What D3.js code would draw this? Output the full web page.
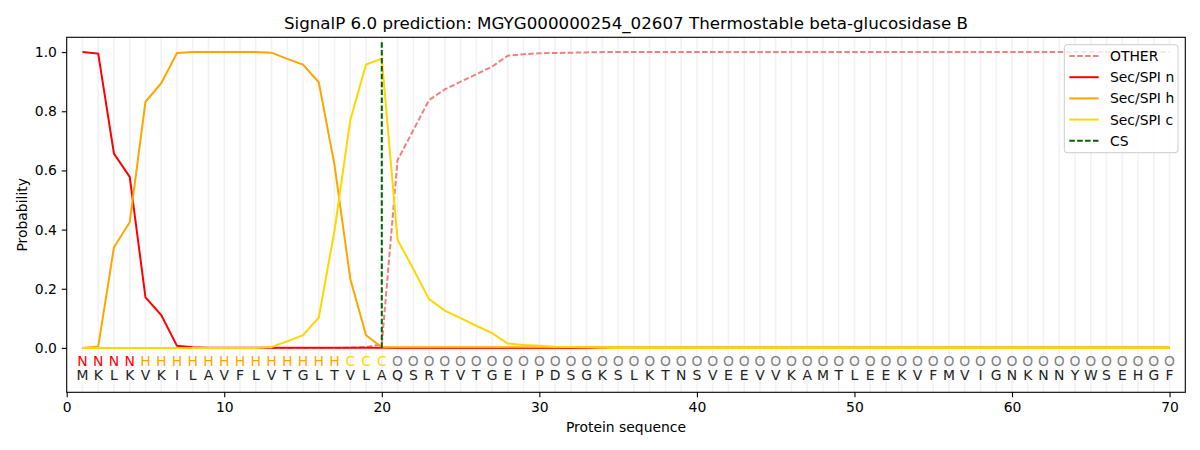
<!DOCTYPE html>
<html>
<head>
<meta charset="utf-8">
<script src="https://cdn.jsdelivr.net/npm/d3@7"></script>
<style>
  body { margin: 0; background: #fff; }
  text { font-family: "DejaVu Sans", sans-serif; }
</style>
</head>
<body>
<div id="chart"></div>
<script>
// SignalP 6.0 per-residue probabilities

const width = 1200,
    height = 450,
    margin = ({ top: 37.3, right: 14.7, bottom: 57.7, left: 66.7 });

const sequence = "MKLKVKILAVFLVTGLTVLAQSRTVTGEIPDSGKSLKTNSVEEVVKAMTLEEKVFMVIGNKNNYWSEHGF".split("");
const regionLabels = "NNNNHHHHHHHHHHHHHCCCOOOOOOOOOOOOOOOOOOOOOOOOOOOOOOOOOOOOOOOOOOOOOOOOOO".split("");
const positions = d3.range(1, 71);

const otherProb = [0, 0, 0, 0, 0, 0, 0, 0, 0, 0,
  0, 0, 0, 0, 0, 0, 0, 0.001, 0.003, 0.012,
  0.635, 0.736, 0.838, 0.874, 0.900, 0.925, 0.951, 0.988, 0.993, 0.996,
  0.997, 0.998, 0.999, 1, 1, 1, 1, 1, 1, 1,
  1, 1, 1, 1, 1, 1, 1, 1, 1, 1,
  1, 1, 1, 1, 1, 1, 1, 1, 1, 1,
  1, 1, 1, 1, 1, 1, 1, 1, 1, 1];
const nProb = [1.0, 0.995, 0.657, 0.578, 0.171, 0.111, 0.007, 0.002, 0.001, 0.001,
  0.001, 0.001, 0.001, 0.001, 0.001, 0.001, 0.001, 0.001, 0.001, 0.001,
  0, 0, 0, 0, 0, 0, 0, 0, 0, 0,
  0, 0, 0, 0, 0, 0, 0, 0, 0, 0,
  0, 0, 0, 0, 0, 0, 0, 0, 0, 0,
  0, 0, 0, 0, 0, 0, 0, 0, 0, 0,
  0, 0, 0, 0, 0, 0, 0, 0, 0, 0];
const hProb = [0, 0.005, 0.340, 0.425, 0.832, 0.895, 0.997, 1.0, 1.0, 1.0,
  1.0, 1.0, 0.998, 0.977, 0.958, 0.898, 0.618, 0.233, 0.043, 0.002,
  0.002, 0.002, 0.002, 0.002, 0.002, 0.002, 0.002, 0.002, 0.002, 0.002,
  0.002, 0.002, 0.002, 0.002, 0.002, 0.002, 0.002, 0.002, 0.002, 0.002,
  0.002, 0.002, 0.002, 0.002, 0.002, 0.002, 0.002, 0.002, 0.002, 0.002,
  0.002, 0.002, 0.002, 0.002, 0.002, 0.002, 0.002, 0.002, 0.002, 0.002,
  0.002, 0.002, 0.002, 0.002, 0.002, 0.002, 0.002, 0.002, 0.002, 0.002];
const cProb = [0, 0, 0, 0, 0, 0, 0, 0, 0, 0,
  0, 0, 0.003, 0.022, 0.043, 0.103, 0.397, 0.770, 0.958, 0.978,
  0.366, 0.267, 0.165, 0.126, 0.101, 0.075, 0.050, 0.015, 0.010, 0.007,
  0.004, 0.003, 0.002, 0.001, 0, 0, 0, 0, 0, 0,
  0, 0, 0, 0, 0, 0, 0, 0, 0, 0,
  0, 0, 0, 0, 0, 0, 0, 0, 0, 0,
  0, 0, 0, 0, 0, 0, 0, 0, 0, 0];
const cleavageSite = 20;

const xTicks = [0, 10, 20, 30, 40, 50, 60, 70];
const yTicks = [0, 0.2, 0.4, 0.6, 0.8, 1.0];

const series = [
  { name: "OTHER", values: otherProb, color: "#f08080", dash: "5.5,2.4" },
  { name: "Sec/SPI n", values: nProb, color: "#ff0000", dash: null },
  { name: "Sec/SPI h", values: hProb, color: "#ffa500", dash: null },
  { name: "Sec/SPI c", values: cProb, color: "#ffd700", dash: null }
];
const labelColors = { N: "#ff0000", H: "#ffa500", C: "#ffd700", O: "#808080" };

const svg = d3.select("#chart")
  .append("svg")
  .attr("width", width)
  .attr("height", height)
  .attr("viewBox", [0, 0, width, height]);

const x = d3.scaleLinear()
  .domain([0, 71])
  .range([margin.left, width - margin.right]);

const y = d3.scaleLinear()
  .domain([-0.15, 1.05])
  .range([height - margin.bottom, margin.top]);

// light vertical guides at every residue
svg.append("g")
  .selectAll("line")
  .data(positions)
  .join("line")
  .attr("x1", d => x(d))
  .attr("x2", d => x(d))
  .attr("y1", margin.top)
  .attr("y2", height - margin.bottom)
  .attr("stroke", "#f2f2f2")
  .attr("stroke-width", 1.6);

const line = d3.line()
  .x((d, i) => x(positions[i]))
  .y(d => y(d));

svg.append("g")
  .selectAll("path")
  .data(series)
  .join("path")
  .attr("d", d => line(d.values))
  .attr("fill", "none")
  .attr("stroke", d => d.color)
  .attr("stroke-width", 2)
  .attr("stroke-dasharray", d => d.dash);

// cleavage site
svg.append("line")
  .attr("x1", x(cleavageSite))
  .attr("x2", x(cleavageSite))
  .attr("y1", y(0))
  .attr("y2", y(1.035))
  .attr("stroke", "#006400")
  .attr("stroke-width", 2)
  .attr("stroke-dasharray", "5.5,2.4");

// region labels and residues
svg.append("g")
  .selectAll("text")
  .data(regionLabels)
  .join("text")
  .attr("x", (d, i) => x(positions[i]))
  .attr("y", 366)
  .attr("text-anchor", "middle")
  .attr("font-size", 13.9)
  .attr("fill", d => labelColors[d])
  .text(d => d);

svg.append("g")
  .selectAll("text")
  .data(sequence)
  .join("text")
  .attr("x", (d, i) => x(positions[i]))
  .attr("y", 380)
  .attr("text-anchor", "middle")
  .attr("font-size", 13.9)
  .attr("fill", "#222")
  .text(d => d);

// axes
const xAxis = svg.append("g")
  .attr("transform", `translate(0,${height - margin.bottom})`)
  .call(d3.axisBottom(x).tickValues(xTicks).tickFormat(d3.format("d")).tickSize(4.9).tickPadding(4.9));

const yAxis = svg.append("g")
  .attr("transform", `translate(${margin.left},0)`)
  .call(d3.axisLeft(y).tickValues(yTicks).tickFormat(d3.format(".1f")).tickSize(4.9).tickPadding(4.9));

[xAxis, yAxis].forEach(a => {
  a.select(".domain").remove();
  a.selectAll("text").attr("font-size", 13.9).attr("fill", "#000").attr("font-family", "DejaVu Sans");
  a.selectAll("line").attr("stroke", "#000").attr("stroke-width", 1.1);
});

svg.append("rect")
  .attr("x", margin.left)
  .attr("y", margin.top)
  .attr("width", width - margin.left - margin.right)
  .attr("height", height - margin.top - margin.bottom)
  .attr("fill", "none")
  .attr("stroke", "#000")
  .attr("stroke-width", 1.1);

svg.append("text")
  .attr("x", (margin.left + width - margin.right) / 2)
  .attr("y", 29)
  .attr("text-anchor", "middle")
  .attr("font-size", 16.7)
  .text("SignalP 6.0 prediction: MGYG000000254_02607 Thermostable beta-glucosidase B");

svg.append("text")
  .attr("x", (margin.left + width - margin.right) / 2)
  .attr("y", 431.5)
  .attr("text-anchor", "middle")
  .attr("font-size", 13.9)
  .text("Protein sequence");

svg.append("text")
  .attr("transform", `translate(27,${(margin.top + height - margin.bottom) / 2}) rotate(-90)`)
  .attr("text-anchor", "middle")
  .attr("font-size", 13.9)
  .text("Probability");

// legend
const legendItems = series.map(d => ({ name: d.name, color: d.color, dash: d.dash }))
  .concat([{ name: "CS", color: "#006400", dash: "5.5,2.4" }]);

const legend = svg.append("g");
legend.append("rect")
  .attr("x", 1064.3)
  .attr("y", 44.7)
  .attr("width", 113.7)
  .attr("height", 108)
  .attr("rx", 3)
  .attr("fill", "#fff")
  .attr("fill-opacity", 0.8)
  .attr("stroke", "#cccccc");

const li = legend.selectAll("g.item")
  .data(legendItems)
  .join("g")
  .attr("transform", (d, i) => `translate(0,${56 + i * 21.2})`);

li.append("line")
  .attr("x1", 1069.3)
  .attr("x2", 1098.7)
  .attr("stroke", d => d.color)
  .attr("stroke-width", 2)
  .attr("stroke-dasharray", d => d.dash);

li.append("text")
  .attr("x", 1110)
  .attr("y", 5)
  .attr("font-size", 13.9)
  .text(d => d.name);
</script>
</body>
</html>
